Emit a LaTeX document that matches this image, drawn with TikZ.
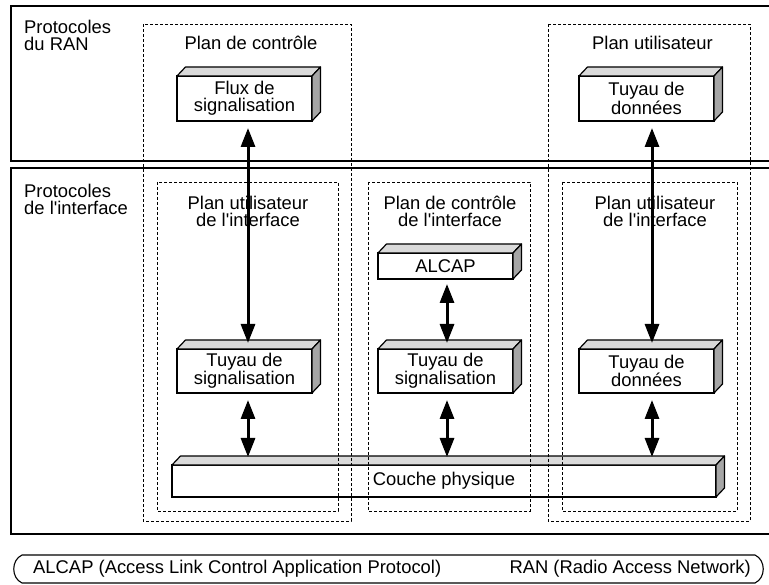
\documentclass[tikz,border=0pt]{standalone}
\usepackage{fontspec}
\setmainfont{Liberation Sans}[Ligatures=TeXOff]
\usetikzlibrary{arrows.meta}
\definecolor{gtop}{HTML}{DADADA}
\definecolor{gside}{HTML}{A6A6A6}
\newcommand\slabfaces[1]{%
  \filldraw[topface] (#1.north west) -- ++(8.5,-9) -- ([shift={(8.5,-9)}]#1.north east) -- (#1.north east) -- cycle;
  \filldraw[sideface] (#1.north east) -- ++(8.5,-9) -- ([shift={(8.5,-9)}]#1.south east) -- (#1.south east) -- cycle;}
\begin{document}
\begin{tikzpicture}[x=1pt,y=-1pt,
  every node/.style={font=\fontsize{18.4}{17}\selectfont},
  outerbox/.style={line width=2.6pt},
  plane/.style={draw, dash pattern=on 3pt off 2pt, line width=0.9pt},
  slab/.style={draw, line width=1.2pt, fill=white, outer sep=0pt, inner sep=0pt, align=center},
  topface/.style={fill=gtop, draw, line width=1.2pt, line join=round},
  sideface/.style={fill=gside, draw, line width=1.2pt, line join=round},
  link/.style={line width=3pt, {Triangle[length=19pt,width=14pt]}-{Triangle[length=19pt,width=14pt]}},
  lbl/.style={inner sep=0pt, align=center, anchor=north},
  ]
\useasboundingbox (0,0) rectangle (769,585);
\clip (0,0) rectangle (769,585);

% outer layers
\draw[outerbox] (11,6) rectangle (785,161);
\draw[outerbox] (11,168) rectangle (785,534);

% slabs
\node[slab, minimum width=135pt, minimum height=45pt] (flux) at (244.5,98.5) {Flux de\\signalisation};
\node[slab, minimum width=135pt, minimum height=45pt] (topdata) at (646.5,98.5) {Tuyau de\\donn\'ees};
\node[slab, minimum width=135pt, minimum height=26pt] (alcap) at (445.5,266) {ALCAP};
\node[slab, minimum width=135pt, minimum height=44pt] (sig1) at (244.5,371) {Tuyau de\\signalisation};
\node[slab, minimum width=135pt, minimum height=44pt] (sig2) at (445.5,371) {Tuyau de\\signalisation};
\node[slab, minimum width=135pt, minimum height=44pt] (data2) at (646.5,371) {Tuyau de\\donn\'ees};
\node[slab, minimum width=544pt, minimum height=32pt] (phys) at (444,481) {Couche physique};
\slabfaces{flux}
\slabfaces{topdata}
\slabfaces{alcap}
\slabfaces{sig1}
\slabfaces{sig2}
\slabfaces{data2}
\slabfaces{phys}

% dashed planes
\draw[plane] (143,24) rectangle (351,521);
\draw[plane] (548,24) rectangle (750,521);
\draw[plane] (157,182) rectangle (338,511);
\draw[plane] (368,182) rectangle (530,511);
\draw[plane] (562,182) rectangle (737,511);

% labels
\node[inner sep=0pt, align=left, anchor=north west] (lran) at (24,20) {Protocoles\\du RAN};
\node[inner sep=0pt, align=left, anchor=north west] (lif) at (24,184) {Protocoles\\de l'interface};
\node[lbl] (pc) at (251,36) {Plan de contr\^ole};
\node[lbl] (pu) at (652.5,36) {Plan utilisateur};
\node[lbl] (pui1) at (248,195.5) {Plan utilisateur\\de l'interface};
\node[lbl] (pci) at (450,195.5) {Plan de contr\^ole\\de l'interface};
\node[lbl] (pui2) at (655,195.5) {Plan utilisateur\\de l'interface};

% arrows
\draw[link] ([shift={(3.5,7)}]flux.south) -- ([shift={(3.5,-6)}]sig1.north);
\draw[link] ([shift={(5.5,7)}]topdata.south) -- ([shift={(5.5,-6)}]data2.north);
\draw[link] ([shift={(1.5,5)}]alcap.south) -- ([shift={(1.5,-6)}]sig2.north);
\draw[link] ([shift={(3.5,7)}]sig1.south) -- ([shift={(3.5,-8)}]sig1.south |- phys.north);
\draw[link] ([shift={(1.5,7)}]sig2.south) -- ([shift={(1.5,-8)}]sig2.south |- phys.north);
\draw[link] ([shift={(5.5,7)}]data2.south) -- ([shift={(5.5,-8)}]data2.south |- phys.north);

% legend
\draw[line width=1.1pt] (22,555) -- (755,555) .. controls (766,560) and (766,578) .. (755,583) -- (22,583) .. controls (11,578) and (11,560) .. (22,555) -- cycle;
\node[inner sep=0pt, anchor=west] (lg1) at (33,569) {ALCAP (Access Link Control Application Protocol)};
\node[inner sep=0pt, anchor=east] (lg2) at (751,569) {RAN (Radio Access Network)};
\end{tikzpicture}
\end{document}
